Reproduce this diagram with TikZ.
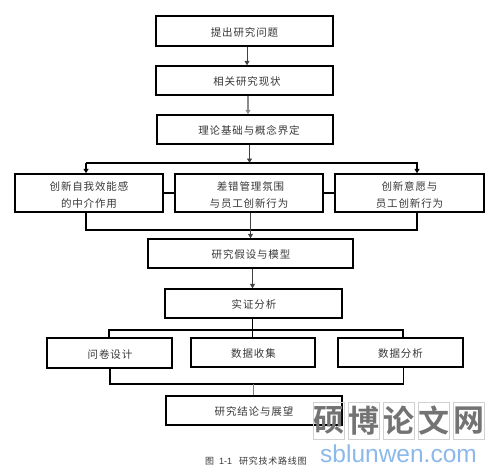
\documentclass[tikz,border=0pt]{standalone}
\usepackage{fontspec}
\usepackage{tikz}
\usetikzlibrary{arrows.meta}
\setmainfont{Liberation Sans}
\newfontfamily\cjk[LetterSpace=8]{Noto Sans CJK SC}
\newfontfamily\cjkcap[LetterSpace=8]{Noto Sans CJK SC}
\newfontfamily\cjkmark[BoldFont=Noto Sans CJK SC Bold]{Noto Sans CJK SC}
\definecolor{inktext}{gray}{0.22}
\definecolor{wmgray}{gray}{0.45}
\definecolor{wmgrid}{gray}{0.82}
\definecolor{wmblue}{RGB}{140,185,235}
\tikzset{
  box/.style={draw=black,line width=1.4pt,rectangle,text=inktext,align=center,inner sep=0pt,
     font=\cjk\fontsize{10.5}{17}\selectfont,
     execute at begin node={\rule{0pt}{11.5pt}}},
  arr/.style={-{Triangle[length=4.5pt,width=5pt]},line width=.7pt,draw=black!75},
  bus/.style={line width=1.3pt,draw=black},
  thin link/.style={line width=.7pt,draw=black!70},
  cell/.style={draw=wmgrid,line width=.6pt,minimum width=31pt,minimum height=37pt,inner sep=0pt,
     text=wmgray,font=\cjkmark\bfseries\fontsize{31}{31}\selectfont},
  caption/.style={text=inktext,inner sep=0pt,font=\cjkcap\fontsize{9}{10}\selectfont},
  mark url/.style={text=wmblue,inner sep=0pt,font=\fontsize{24.5}{25}\selectfont}
}
\newcommand{\placebox}[6]{\node[box,minimum width=#4pt-#3pt,minimum height=#6pt-#5pt] (#1) at ({(#3+#4)/2},{-(#5+#6)/2}) {#2};}
\begin{document}
\begin{tikzpicture}[x=1pt,y=1pt]
\useasboundingbox (0,0) rectangle (502,-473);
\fill[white] (0,0) rectangle (502,-473);
% boxes
\placebox{b1}{提出研究问题}{156}{333}{16}{46}
\placebox{b2}{\hspace*{5pt}相关研究现状}{156}{333}{66}{95}
\placebox{b3}{\hspace*{8pt}理论基础与概念界定}{157}{333}{115}{144}
\placebox{c1}{\rule{0pt}{13pt}创新自我效能感\\的中介作用}{15}{163}{174}{212}
\placebox{c2}{\rule{0pt}{13pt}\hspace*{3pt}差错管理氛围\\与员工创新行为}{175}{323}{174}{212}
\placebox{c3}{\rule{0pt}{13pt}创新意愿与\\员工创新行为}{335}{484}{174}{212}
\placebox{d}{\hspace*{1pt}研究假设与模型}{148}{353}{239}{268}
\placebox{e}{\hspace*{1pt}实证分析}{165}{342}{289}{318}
\placebox{f1}{\hspace*{1pt}问卷设计}{47}{172}{338}{368}
\placebox{f2}{\hspace*{1pt}数据收集}{191}{315}{338}{367}
\placebox{f3}{数据分析}{338}{463}{338}{367}
\placebox{g}{研究结论与展望}{166}{342}{396}{425}
% guide coordinates
\coordinate (xa) at (247,0);
\coordinate (xb) at (248,0);
\coordinate (xc) at (249.5,0);
\coordinate (xl) at (86,0);
\coordinate (xr) at (417,0);
\coordinate (xd) at (250.5,0);
\coordinate (xe) at (252.5,0);
\coordinate (xf) at (109,0);
\coordinate (xg) at (403,0);
\coordinate (xh) at (110,0);
\coordinate (xi) at (403.5,0);
\coordinate (xj) at (253.5,0);
\coordinate (ybus1) at (0,-163);
\coordinate (ybus2) at (0,-230);
\coordinate (ybus3) at (0,-330);
\coordinate (ybus4) at (0,-384);
\coordinate (ylink) at (0,-193);
% connectors
\draw[arr] (b1.south -| xa) -- (b2.north -| xa);
\draw[arr,line width=1.1pt,draw=black!45] (b2.south -| xb) -- (b3.north -| xb);
\draw[arr] (b3.south -| xc) -- (xc |- ybus1);
\draw[bus,-{Triangle[length=4.5pt,width=5pt]}] (xl |- ybus1) -- (c1.north -| xl);
\draw[bus,-{Triangle[length=4.5pt,width=5pt]}] (xl |- ybus1) -- (xr |- ybus1) -- (c3.north -| xr);
\draw[bus] (c1.east |- ylink) -- (c2.west |- ylink);
\draw[bus] (c2.east |- ylink) -- (c3.west |- ylink);
\draw[bus] (c1.south -| xl) -- (xl |- ybus2) -- (xr |- ybus2) -- (c3.south -| xr);
\draw[arr] (c2.south -| xd) -- (d.north -| xd);
\draw[arr] (d.south -| xe) -- (e.north -| xe);
\draw[bus,line width=1pt] (e.south -| xe) -- (f2.north -| xe);
\draw[bus,line width=1.1pt] (f1.north -| xf) -- (xf |- ybus3) -- (xg |- ybus3) -- (f3.north -| xg);
\draw[bus,line width=1.1pt] (f1.south -| xh) -- (xh |- ybus4) -- (xi |- ybus4) -- (f3.south -| xi);
\draw[thin link,draw=black!50] (xj |- ybus4) -- (g.north -| xj);
% caption
\node[caption,anchor=west] (cap) at (205,-461) {图\hspace{5pt}{\fontspec{Liberation Sans}1-1}\hspace{7pt}研究技术路线图};
% watermark
\node[cell] (w1) at (328.5,-420.5) {硕};
\node[cell] (w2) at (363.5,-420.5) {博};
\node[cell] (w3) at (398.5,-420.5) {论};
\node[cell] (w4) at (433.5,-420.5) {文};
\node[cell] (w5) at (468.5,-420.5) {网};
\node[mark url,anchor=center] (url) at (398.5,-454) {sblunwen.com};
\end{tikzpicture}
\end{document}
